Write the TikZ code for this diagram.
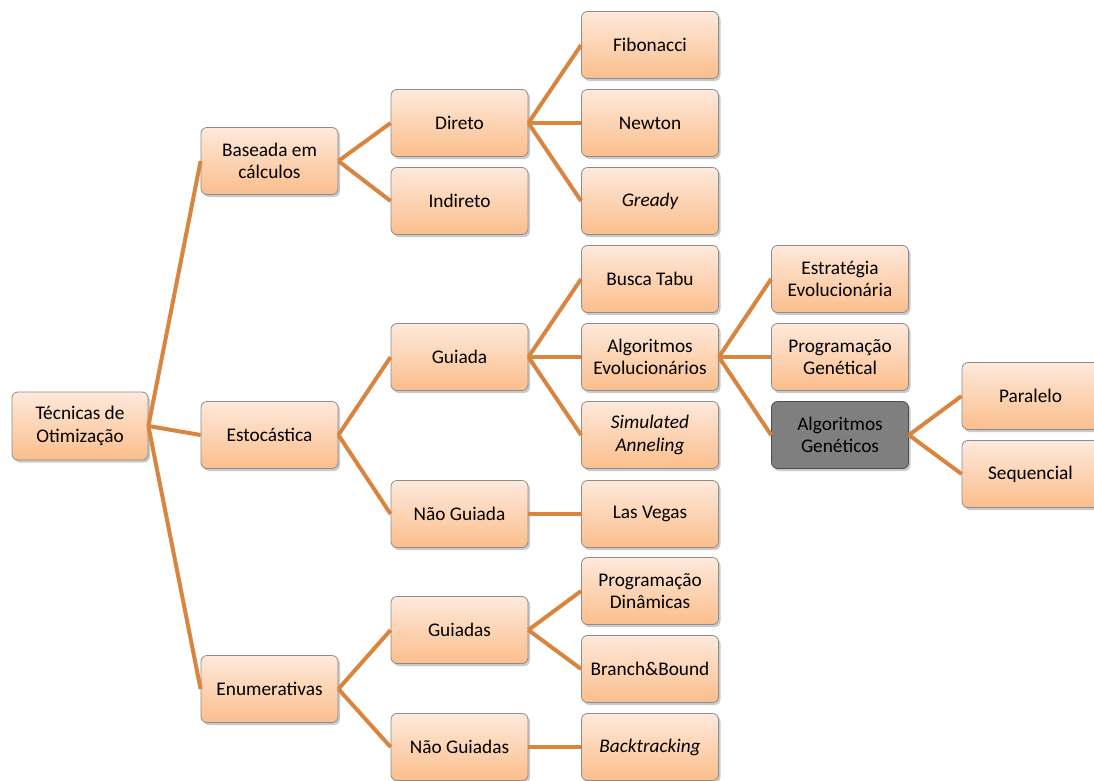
\documentclass[tikz,border=0pt]{standalone}
\usepackage{fontspec}
\setmainfont{Carlito}
\usetikzlibrary{shadows}
\definecolor{edgec}{HTML}{D9843F}
\definecolor{boxtop}{HTML}{FEE9DB}
\definecolor{boxbot}{HTML}{FBBE8C}
\definecolor{boxline}{HTML}{8C8C8C}
\definecolor{greyfill}{HTML}{7F7F7F}
\tikzset{
  boxnode/.style={rectangle, rounded corners=6pt, draw=boxline, line width=0.8pt,
    top color=boxtop, bottom color=boxbot, minimum width=137pt, minimum height=67pt,
    align=center, font=\fontsize{19.3}{22.5}\selectfont, inner sep=2pt,
    drop shadow={shadow xshift=2pt, shadow yshift=-2.5pt, opacity=0.35, fill=black!60}},
  greynode/.style={boxnode, top color=greyfill, bottom color=greyfill, draw=black!70},
  link/.style={draw=edgec, line width=4pt}
}
\begin{document}
\begin{tikzpicture}[x=1pt,y=-1pt]
\useasboundingbox (0,0) rectangle (1094,780);
% root
\node[boxnode, minimum width=136pt, minimum height=68pt] (T) at (80,426) {Técnicas de\\Otimização};
% level 1
\node[boxnode] (B) at (269.5,161) {Baseada em\\cálculos};
\node[boxnode] (E) at (269.5,435) {Estocástica};
\node[boxnode] (En) at (269.5,689) {Enumerativas};
% level 2
\node[boxnode] (Di) at (459.5,123) {Direto};
\node[boxnode] (In) at (459.5,201) {Indireto};
\node[boxnode] (Gu) at (459.5,357) {Guiada};
\node[boxnode] (NG) at (459.5,514) {Não Guiada};
\node[boxnode] (Gs) at (459.5,630) {Guiadas};
\node[boxnode] (NGs) at (459.5,747) {Não Guiadas};
% level 3
\node[boxnode] (Fi) at (650,45) {Fibonacci};
\node[boxnode] (Ne) at (650,123) {Newton};
\node[boxnode] (Gr) at (650,201) {\itshape Gready};
\node[boxnode] (BT) at (650,279) {Busca Tabu};
\node[boxnode] (AE) at (650,357) {Algoritmos\\Evolucionários};
\node[boxnode] (SA) at (650,435) {\itshape Simulated\\\itshape Anneling};
\node[boxnode] (LV) at (650,514) {Las Vegas};
\node[boxnode] (PD) at (650,591) {Programação\\Dinâmicas};
\node[boxnode] (BB) at (650,669) {Branch\&Bound};
\node[boxnode] (Bk) at (650,747) {\itshape Backtracking};
% level 4
\node[boxnode] (EE) at (840,279) {Estratégia\\Evolucionária};
\node[boxnode] (PG) at (840,357) {Programação\\Genétical};
\node[greynode] (AG) at (840,435) {Algoritmos\\Genéticos};
% level 5
\node[boxnode] (Pa) at (1030.5,396) {Paralelo};
\node[boxnode] (Se) at (1030.5,474) {Sequencial};
% links
\foreach \a/\b in {T/B, T/E, T/En, B/Di, B/In, E/Gu, E/NG, En/Gs, En/NGs,
  Di/Fi, Di/Ne, Di/Gr, Gu/BT, Gu/AE, Gu/SA, NG/LV, Gs/PD, Gs/BB, NGs/Bk,
  AE/EE, AE/PG, AE/AG, AG/Pa, AG/Se}
  \draw[link] (\a.east) -- (\b.west);
\end{tikzpicture}
\end{document}
